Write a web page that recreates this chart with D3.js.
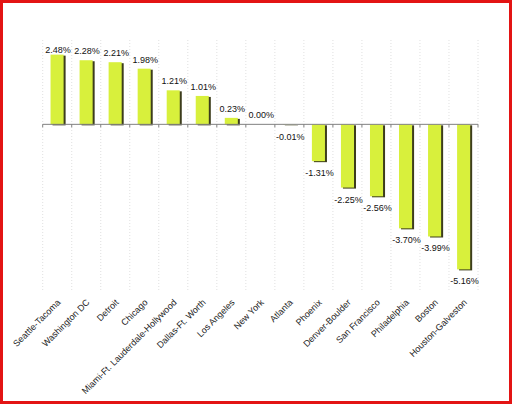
<!DOCTYPE html>
<html>
<head>
<meta charset="utf-8">
<script src="https://cdn.jsdelivr.net/npm/d3@7"></script>
<style>
  body { margin: 0; background: #fff; }
  svg { display: block; font-family: Arial, "Liberation Sans", sans-serif; }
</style>
</head>
<body>
<div id="app"></div>
<script>
const W = 512, H = 404;

const cities = ["Seattle-Tacoma", "Washington DC", "Detroit", "Chicago",
  "Miami-Ft. Lauderdale-Hollywood", "Dallas-Ft. Worth", "Los Angeles", "New York",
  "Atlanta", "Phoenix", "Denver-Boulder", "San Francisco", "Philadelphia",
  "Boston", "Houston-Galveston"];
const changes = [2.48, 2.28, 2.21, 1.98, 1.21, 1.01, 0.23, 0.00,
  -0.01, -1.31, -2.25, -2.56, -3.70, -3.99, -5.16];
const yDomain = [-6, 3];

const svg = d3.select("#app").append("svg")
    .attr("width", W)
    .attr("height", H);

svg.append("rect")
    .attr("x", 1.5).attr("y", 1.5)
    .attr("width", W - 3).attr("height", H - 3)
    .attr("fill", "#fff")
    .attr("stroke", "#e31414")
    .attr("stroke-width", 3);

const x = d3.scaleBand()
    .domain(cities)
    .range([42.7, 478])
    .paddingInner(0.55)
    .paddingOuter(0.27);

const y = d3.scaleLinear()
    .domain(yDomain)
    .range([293, 40]);

const chart = svg.append("g");

// dotted vertical gridlines at the category boundaries
const bounds = d3.range(cities.length + 1).map(i => 42.7 + i * (478 - 42.7) / cities.length);
chart.selectAll("line.grid")
    .data(bounds)
    .join("line")
    .attr("class", "grid")
    .attr("x1", d => d).attr("x2", d => d)
    .attr("y1", 40).attr("y2", 290)
    .attr("stroke", "#d8d8d8")
    .attr("stroke-width", 0.8)
    .attr("stroke-dasharray", "1,2");

// bars: dark shadow first, then the yellow-green face
const bars = chart.selectAll("g.bar")
    .data(cities.map((c, i) => ({ city: c, value: changes[i] })))
    .join("g")
    .attr("class", "bar");

bars.append("rect")
    .attr("x", d => x(d.city) + 2)
    .attr("y", d => Math.min(y(d.value), y(0)) + 1)
    .attr("width", x.bandwidth())
    .attr("height", d => Math.abs(y(d.value) - y(0)))
    .attr("fill", "#3d3d1c");

bars.append("rect")
    .attr("x", d => x(d.city))
    .attr("y", d => Math.min(y(d.value), y(0)))
    .attr("width", x.bandwidth())
    .attr("height", d => Math.abs(y(d.value) - y(0)))
    .attr("fill", "#d8f03c");

// zero axis with small ticks
chart.append("line")
    .attr("x1", 42.7).attr("x2", 478)
    .attr("y1", y(0)).attr("y2", y(0))
    .attr("stroke", "#808080")
    .attr("stroke-width", 1);

chart.selectAll("line.tick")
    .data(bounds)
    .join("line")
    .attr("class", "tick")
    .attr("x1", d => d).attr("x2", d => d)
    .attr("y1", y(0)).attr("y2", y(0) + 3)
    .attr("stroke", "#808080");

// value labels (plain hyphen for negatives)
bars.append("text")
    .attr("x", d => x(d.city) + x.bandwidth() / 2 + 1)
    .attr("y", d => d.value >= 0 ? Math.max(y(d.value) - 6, 53) : y(Math.min(d.value, 0)) + 15)
    .attr("text-anchor", "middle")
    .attr("font-size", 9)
    .attr("fill", "#111")
    .text(d => d.value.toFixed(2) + "%");

// rotated category labels
chart.selectAll("text.cat")
    .data(cities)
    .join("text")
    .attr("class", "cat")
    .attr("transform", d => `translate(${x(d) + x.bandwidth() / 2 + 4},${303}) rotate(-45)`)
    .attr("text-anchor", "end")
    .attr("font-size", 9)
    .attr("fill", "#222")
    .text(d => d);
</script>
</body>
</html>
